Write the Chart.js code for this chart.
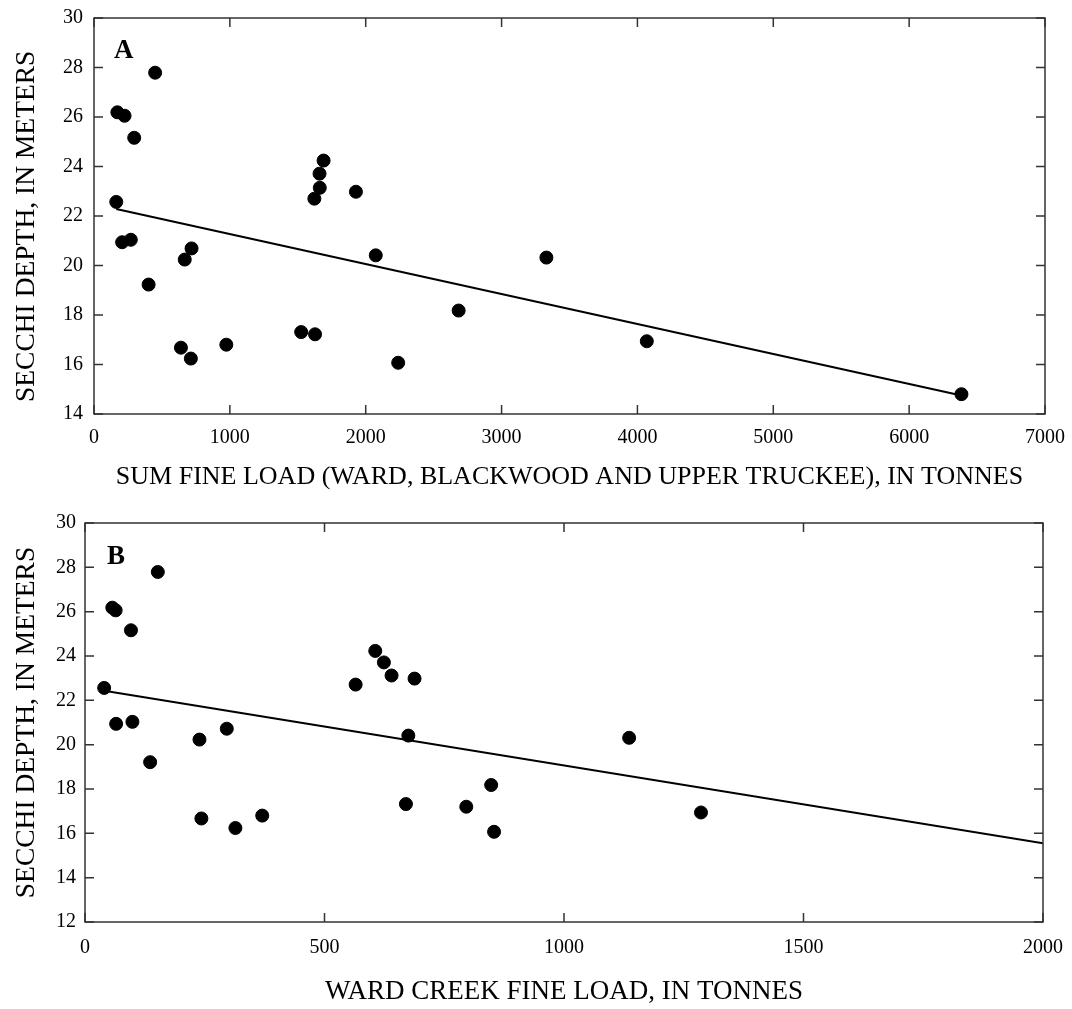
<!DOCTYPE html>
<html>
<head>
<meta charset="utf-8">
<script src="https://cdn.jsdelivr.net/npm/chart.js@4"></script>
<style>
  html, body { margin: 0; padding: 0; background: #fff; }
  canvas { display: block; }
</style>
</head>
<body>
<canvas id="chartA" width="1072" height="500"></canvas>
<canvas id="chartB" width="1072" height="509"></canvas>
<script>
// Panel A: sum of fine loads (Ward, Blackwood, Upper Truckee)
const sumFineLoad = [450, 172, 225, 296, 164, 207, 271, 402, 668, 718, 640, 713, 974,
  1525, 1627, 1622, 1660, 1662, 1690, 1928, 2074, 2239, 2684, 3330, 4069, 6385];
const secchiA = [27.79, 26.19, 26.05, 25.16, 22.57, 20.94, 21.04, 19.23, 20.24, 20.69, 16.68, 16.24, 16.8,
  17.31, 17.22, 22.7, 23.71, 23.14, 24.24, 22.98, 20.41, 16.07, 18.18, 20.32, 16.94, 14.8];
const fitAx = [164, 6385];
const fitAy = [22.28, 14.75];

// Panel B: Ward Creek fine load
const wardFineLoad = [152, 57, 64, 96, 40, 65, 99, 136, 239, 296, 243, 314, 370,
  670, 796, 565, 624, 640, 606, 688, 675, 854, 848, 1136, 1286];
const secchiB = [27.79, 26.18, 26.06, 25.16, 22.56, 20.94, 21.03, 19.21, 20.23, 20.72, 16.67, 16.24, 16.8,
  17.32, 17.2, 22.71, 23.71, 23.12, 24.23, 22.98, 20.41, 16.07, 18.18, 20.31, 16.94];
const fitBx = [40, 2000];
const fitBy = [22.43, 15.55];

const FONT = '"Liberation Serif", "Times New Roman", serif';

// box round the plot with inward ticks on all four sides, plus panel letter
const framePlugin = {
  id: 'frame',
  afterDatasetsDraw(chart, args, opts) {
    const { ctx, chartArea: a, scales: { x, y } } = chart;
    ctx.save();
    ctx.strokeStyle = '#333';
    ctx.lineWidth = 1.5;
    ctx.beginPath();
    x.ticks.forEach(t => {
      const px = x.getPixelForValue(t.value);
      ctx.moveTo(px, a.bottom); ctx.lineTo(px, a.bottom - 9);
      ctx.moveTo(px, a.top); ctx.lineTo(px, a.top + 9);
    });
    y.ticks.forEach(t => {
      const py = y.getPixelForValue(t.value);
      ctx.moveTo(a.left, py); ctx.lineTo(a.left + 9, py);
      ctx.moveTo(a.right, py); ctx.lineTo(a.right - 9, py);
    });
    ctx.stroke();
    ctx.strokeRect(a.left, a.top, a.right - a.left, a.bottom - a.top);
    ctx.fillStyle = '#000';
    ctx.font = 'bold 27px ' + FONT;
    ctx.fillText(opts.letter, a.left + opts.dx, a.top + opts.dy);
    ctx.restore();
  }
};

function makeChart(id, xs, ys, fx, fy, cfg) {
  return new Chart(document.getElementById(id), {
    type: 'scatter',
    data: {
      datasets: [{
        data: xs.map((v, i) => ({ x: v, y: ys[i] })),
        backgroundColor: '#000',
        borderColor: '#000',
        pointRadius: 6.5
      }, {
        type: 'line',
        data: fx.map((v, i) => ({ x: v, y: fy[i] })),
        borderColor: '#000',
        borderWidth: 2,
        pointRadius: 0,
        fill: false
      }]
    },
    options: {
      responsive: false,
      animation: false,
      layout: { padding: cfg.padding },
      plugins: {
        legend: { display: false },
        tooltip: { enabled: false },
        frame: { letter: cfg.letter, dx: cfg.dx, dy: cfg.dy }
      },
      scales: {
        x: {
          type: 'linear',
          min: 0, max: cfg.xMax,
          grid: { display: false, drawTicks: false },
          border: { display: false },
          ticks: { stepSize: cfg.xStep, padding: cfg.xPad, color: '#000',
                   font: { family: FONT, size: 20 }, callback: v => String(v) },
          title: { display: true, text: cfg.xTitle, color: '#000',
                   font: { family: FONT, size: cfg.xTitleSize }, padding: { top: 0, bottom: cfg.xTitlePad } },
          afterFit(s) { s.height = cfg.xHeight; s.paddingLeft = 0; s.paddingRight = 0; }
        },
        y: {
          min: cfg.yMin, max: 30,
          grid: { display: false, drawTicks: false },
          border: { display: false },
          ticks: { stepSize: 2, padding: cfg.yPad, color: '#000',
                   font: { family: FONT, size: 20 }, callback: v => String(v) },
          title: { display: true, text: cfg.yTitle, color: '#000',
                   font: { family: FONT, size: 27.5 }, padding: { top: 10, bottom: 0 } },
          afterFit(s) { s.width = cfg.yWidth; s.paddingTop = 0; s.paddingBottom = 0; }
        }
      }
    },
    plugins: [framePlugin]
  });
}

makeChart('chartA', sumFineLoad, secchiA, fitAx, fitAy, {
  padding: { top: 18, right: 27, left: 0, bottom: 0 },
  xMax: 7000, xStep: 1000, yMin: 14,
  xTitle: 'SUM FINE LOAD (WARD, BLACKWOOD AND UPPER TRUCKEE), IN TONNES',
  xTitleSize: 26,
  yTitle: 'SECCHI DEPTH, IN METERS   ',
  xHeight: 86, yWidth: 94, xPad: 12, yPad: 11, xTitlePad: 7,
  letter: 'A', dx: 20, dy: 40
});

makeChart('chartB', wardFineLoad, secchiB, fitBx, fitBy, {
  padding: { top: 23, right: 29, left: 0, bottom: 0 },
  xMax: 2000, xStep: 500, yMin: 12,
  xTitle: 'WARD CREEK FINE LOAD, IN TONNES',
  xTitleSize: 27,
  yTitle: 'SECCHI DEPTH, IN METERS',
  xHeight: 87, yWidth: 85, xPad: 14, yPad: 9, xTitlePad: 1,
  letter: 'B', dx: 22, dy: 41
});
</script>
</body>
</html>
